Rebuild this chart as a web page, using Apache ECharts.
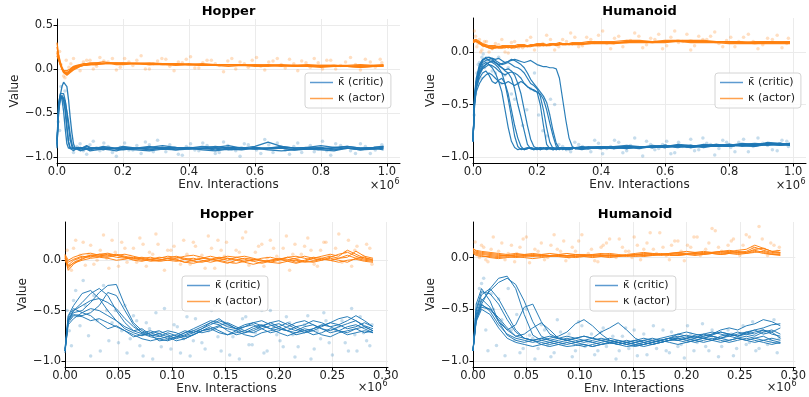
<!DOCTYPE html>
<html><head><meta charset="utf-8">
<script src="https://cdn.jsdelivr.net/npm/echarts@6/dist/echarts.min.js"></script>
<style>html,body{margin:0;padding:0;background:#fff}#c{width:809px;height:397px}</style>
</head><body><div id="c"></div>
<script>
// ---------- titles / labels ----------
const panelTitles = ['Hopper', 'Humanoid', 'Hopper', 'Humanoid'];
const xName = 'Env. Interactions';
const yName = 'Value';
const criticName = '\u03BA\u0304 (critic)';
const actorName = '\u03BA (actor)';

// ---------- tick labels ----------
const topXTicks = [0, 0.2, 0.4, 0.6, 0.8, 1.0];
const bottomXTicks = [0, 0.05, 0.10, 0.15, 0.20, 0.25, 0.30];
const hopTopYTicks = [0.5, 0, -0.5, -1.0];
const otherYTicks = [0, -0.5, -1.0];

// ---------- Hopper (top, x in 1e6) ----------
const hopTopX = [0,0.005,0.01,0.015,0.02,0.025,0.03,0.035,0.04,0.045,0.05,0.055,0.06,0.065,0.07,0.08,0.09,0.1,0.12,0.14,0.16,0.18,0.2,0.24,0.28,0.32,0.36,0.4,0.44,0.48,0.52,0.56,0.6,0.64,0.68,0.72,0.76,0.8,0.84,0.88,0.92,0.96,0.99];
const hopTopCriticA = [-0.85,-0.45,-0.32,-0.3,-0.33,-0.45,-0.65,-0.82,-0.9,-0.91,-0.9,-0.9,-0.91,-0.9,-0.89,-0.9,-0.91,-0.9,-0.89,-0.9,-0.91,-0.9,-0.9,-0.91,-0.9,-0.89,-0.9,-0.9,-0.91,-0.9,-0.89,-0.9,-0.91,-0.9,-0.89,-0.9,-0.9,-0.91,-0.89,-0.9,-0.9,-0.91,-0.9];
const hopTopCriticB = [-0.8,-0.5,-0.3,-0.2,-0.15,-0.14,-0.2,-0.35,-0.55,-0.72,-0.85,-0.9,-0.91,-0.92,-0.9,-0.89,-0.9,-0.92,-0.9,-0.89,-0.91,-0.9,-0.91,-0.9,-0.92,-0.9,-0.89,-0.91,-0.9,-0.92,-0.9,-0.89,-0.91,-0.9,-0.9,-0.92,-0.9,-0.89,-0.91,-0.9,-0.92,-0.9,-0.89];
const hopTopCriticC = [-0.9,-0.4,-0.28,-0.26,-0.28,-0.36,-0.5,-0.66,-0.8,-0.88,-0.91,-0.9,-0.89,-0.9,-0.91,-0.9,-0.88,-0.9,-0.91,-0.9,-0.89,-0.91,-0.89,-0.9,-0.88,-0.91,-0.9,-0.89,-0.9,-0.88,-0.9,-0.91,-0.89,-0.9,-0.88,-0.9,-0.89,-0.91,-0.9,-0.88,-0.9,-0.89,-0.88];
const hopTopCriticD = [-0.82,-0.38,-0.3,-0.34,-0.48,-0.68,-0.85,-0.9,-0.91,-0.9,-0.92,-0.91,-0.9,-0.89,-0.91,-0.92,-0.9,-0.91,-0.9,-0.92,-0.9,-0.91,-0.92,-0.9,-0.91,-0.9,-0.92,-0.91,-0.9,-0.9,-0.92,-0.91,-0.9,-0.91,-0.9,-0.92,-0.91,-0.9,-0.92,-0.9,-0.91,-0.9,-0.92];
const hopTopCriticE = [-0.88,-0.42,-0.33,-0.3,-0.31,-0.37,-0.48,-0.6,-0.74,-0.85,-0.9,-0.89,-0.9,-0.88,-0.9,-0.89,-0.87,-0.89,-0.9,-0.88,-0.89,-0.9,-0.88,-0.9,-0.89,-0.87,-0.89,-0.9,-0.88,-0.89,-0.87,-0.9,-0.88,-0.83,-0.88,-0.9,-0.89,-0.87,-0.89,-0.88,-0.9,-0.89,-0.88];
const hopTopCriticF = [-0.86,-0.48,-0.35,-0.32,-0.36,-0.48,-0.68,-0.84,-0.9,-0.92,-0.93,-0.92,-0.9,-0.91,-0.93,-0.92,-0.91,-0.93,-0.92,-0.91,-0.92,-0.93,-0.91,-0.92,-0.93,-0.91,-0.92,-0.9,-0.92,-0.93,-0.91,-0.92,-0.9,-0.92,-0.93,-0.92,-0.91,-0.92,-0.93,-0.9,-0.92,-0.91,-0.9];
const hopTopActorA = [0.3,0.16,0.08,0.02,-0.03,-0.05,-0.05,-0.04,-0.02,0.0,0.01,0.02,0.03,0.03,0.04,0.04,0.05,0.05,0.06,0.06,0.07,0.06,0.06,0.06,0.05,0.06,0.05,0.05,0.05,0.04,0.05,0.04,0.04,0.04,0.04,0.03,0.04,0.03,0.03,0.03,0.03,0.04,0.04];
const hopTopActorB = [0.2,0.12,0.06,0.0,-0.04,-0.06,-0.06,-0.05,-0.03,-0.02,0.0,0.01,0.02,0.03,0.03,0.04,0.05,0.05,0.05,0.06,0.06,0.07,0.06,0.07,0.06,0.05,0.06,0.05,0.04,0.05,0.05,0.04,0.05,0.04,0.03,0.04,0.04,0.03,0.04,0.03,0.02,0.03,0.03];
const hopTopActorC = [0.15,0.1,0.05,0.01,-0.02,-0.03,-0.02,-0.01,0.0,0.02,0.03,0.04,0.04,0.05,0.05,0.06,0.06,0.07,0.07,0.08,0.07,0.07,0.07,0.06,0.07,0.06,0.06,0.05,0.06,0.05,0.05,0.05,0.04,0.05,0.04,0.04,0.05,0.04,0.04,0.04,0.05,0.04,0.05];
const hopTopActorD = [0.25,0.14,0.07,0.01,-0.04,-0.06,-0.07,-0.06,-0.04,-0.02,-0.01,0.0,0.01,0.02,0.03,0.04,0.04,0.05,0.05,0.06,0.06,0.05,0.05,0.06,0.05,0.05,0.04,0.05,0.04,0.04,0.03,0.04,0.03,0.03,0.04,0.03,0.03,0.02,0.03,0.03,0.02,0.03,0.03];
const hopTopActorE = [0.18,0.11,0.05,0.0,-0.02,-0.04,-0.05,-0.03,-0.01,0.01,0.02,0.03,0.03,0.04,0.05,0.05,0.06,0.06,0.07,0.06,0.07,0.06,0.07,0.06,0.06,0.06,0.05,0.06,0.05,0.04,0.05,0.05,0.04,0.04,0.05,0.04,0.03,0.04,0.04,0.03,0.04,0.03,0.04];

// ---------- Humanoid (top, x in 1e6) ----------
const humTopX = [0,0.005,0.01,0.02,0.03,0.04,0.05,0.06,0.07,0.08,0.09,0.1,0.11,0.12,0.13,0.14,0.15,0.16,0.17,0.18,0.19,0.2,0.21,0.22,0.23,0.24,0.25,0.26,0.27,0.28,0.29,0.3,0.31,0.32,0.34,0.36,0.4,0.44,0.48,0.52,0.56,0.6,0.64,0.68,0.72,0.76,0.8,0.84,0.88,0.92,0.96,0.99];
const humTopCriticA = [-0.85,-0.45,-0.3,-0.18,-0.12,-0.1,-0.12,-0.15,-0.2,-0.28,-0.38,-0.55,-0.72,-0.85,-0.91,-0.93,-0.92,-0.93,-0.92,-0.91,-0.92,-0.93,-0.92,-0.91,-0.92,-0.91,-0.92,-0.93,-0.92,-0.91,-0.92,-0.91,-0.92,-0.91,-0.91,-0.92,-0.91,-0.9,-0.91,-0.9,-0.9,-0.89,-0.9,-0.9,-0.89,-0.9,-0.89,-0.89,-0.88,-0.87,-0.88,-0.88];
const humTopCriticB = [-0.85,-0.4,-0.25,-0.12,-0.07,-0.06,-0.08,-0.1,-0.12,-0.15,-0.2,-0.3,-0.45,-0.62,-0.8,-0.9,-0.93,-0.92,-0.91,-0.92,-0.93,-0.92,-0.91,-0.92,-0.92,-0.91,-0.93,-0.92,-0.91,-0.92,-0.91,-0.92,-0.91,-0.92,-0.92,-0.91,-0.9,-0.91,-0.9,-0.91,-0.89,-0.9,-0.89,-0.91,-0.9,-0.89,-0.88,-0.9,-0.89,-0.88,-0.87,-0.89];
const humTopCriticC = [-0.85,-0.5,-0.35,-0.25,-0.2,-0.18,-0.22,-0.28,-0.3,-0.27,-0.25,-0.3,-0.4,-0.55,-0.7,-0.82,-0.9,-0.93,-0.92,-0.91,-0.92,-0.91,-0.93,-0.92,-0.91,-0.92,-0.93,-0.92,-0.91,-0.92,-0.93,-0.92,-0.91,-0.92,-0.9,-0.91,-0.92,-0.9,-0.89,-0.9,-0.91,-0.9,-0.88,-0.89,-0.9,-0.88,-0.89,-0.87,-0.88,-0.89,-0.88,-0.87];
const humTopCriticD = [-0.85,-0.42,-0.28,-0.15,-0.08,-0.05,-0.05,-0.07,-0.1,-0.12,-0.15,-0.18,-0.2,-0.25,-0.35,-0.5,-0.62,-0.75,-0.88,-0.92,-0.93,-0.92,-0.91,-0.92,-0.93,-0.92,-0.91,-0.92,-0.91,-0.93,-0.92,-0.91,-0.92,-0.91,-0.91,-0.9,-0.91,-0.92,-0.9,-0.91,-0.9,-0.89,-0.9,-0.9,-0.89,-0.88,-0.9,-0.89,-0.88,-0.88,-0.87,-0.88];
const humTopCriticE = [-0.85,-0.48,-0.32,-0.2,-0.14,-0.12,-0.1,-0.09,-0.1,-0.13,-0.15,-0.17,-0.16,-0.18,-0.22,-0.3,-0.4,-0.55,-0.7,-0.83,-0.9,-0.92,-0.93,-0.92,-0.91,-0.92,-0.93,-0.91,-0.92,-0.91,-0.92,-0.93,-0.92,-0.91,-0.92,-0.91,-0.9,-0.91,-0.92,-0.9,-0.91,-0.89,-0.9,-0.91,-0.89,-0.9,-0.88,-0.89,-0.9,-0.88,-0.88,-0.87];
const humTopCriticF = [-0.85,-0.5,-0.38,-0.3,-0.25,-0.22,-0.2,-0.22,-0.25,-0.28,-0.3,-0.3,-0.28,-0.3,-0.32,-0.3,-0.28,-0.3,-0.33,-0.35,-0.36,-0.38,-0.5,-0.7,-0.88,-0.92,-0.91,-0.92,-0.93,-0.92,-0.91,-0.92,-0.91,-0.92,-0.93,-0.92,-0.91,-0.9,-0.91,-0.92,-0.9,-0.9,-0.91,-0.89,-0.9,-0.89,-0.9,-0.88,-0.89,-0.88,-0.89,-0.88];
const humTopCriticG = [-0.85,-0.44,-0.3,-0.16,-0.1,-0.08,-0.07,-0.06,-0.08,-0.1,-0.12,-0.11,-0.1,-0.12,-0.14,-0.15,-0.17,-0.2,-0.25,-0.3,-0.32,-0.35,-0.42,-0.55,-0.72,-0.86,-0.92,-0.93,-0.92,-0.91,-0.92,-0.91,-0.92,-0.91,-0.92,-0.91,-0.92,-0.91,-0.9,-0.91,-0.9,-0.91,-0.89,-0.9,-0.9,-0.89,-0.9,-0.88,-0.89,-0.87,-0.88,-0.89];
const humTopCriticH = [-0.85,-0.46,-0.34,-0.22,-0.16,-0.14,-0.12,-0.13,-0.15,-0.18,-0.2,-0.22,-0.2,-0.19,-0.2,-0.22,-0.25,-0.3,-0.33,-0.35,-0.37,-0.38,-0.4,-0.45,-0.55,-0.68,-0.8,-0.9,-0.92,-0.91,-0.92,-0.93,-0.92,-0.91,-0.9,-0.92,-0.91,-0.9,-0.92,-0.9,-0.91,-0.9,-0.9,-0.89,-0.91,-0.89,-0.88,-0.89,-0.9,-0.87,-0.89,-0.88];
const humTopCriticI = [-0.85,-0.43,-0.29,-0.14,-0.08,-0.06,-0.05,-0.06,-0.07,-0.06,-0.08,-0.1,-0.09,-0.07,-0.08,-0.1,-0.12,-0.15,-0.2,-0.26,-0.3,-0.34,-0.38,-0.42,-0.48,-0.6,-0.75,-0.87,-0.92,-0.91,-0.92,-0.91,-0.92,-0.91,-0.92,-0.91,-0.9,-0.92,-0.91,-0.9,-0.9,-0.91,-0.89,-0.9,-0.88,-0.89,-0.9,-0.88,-0.89,-0.86,-0.87,-0.88];
const humTopCriticJ = [-0.85,-0.47,-0.33,-0.2,-0.15,-0.12,-0.1,-0.08,-0.1,-0.12,-0.11,-0.1,-0.09,-0.08,-0.07,-0.08,-0.09,-0.1,-0.09,-0.08,-0.1,-0.12,-0.13,-0.14,-0.14,-0.15,-0.15,-0.16,-0.25,-0.45,-0.65,-0.82,-0.9,-0.92,-0.91,-0.92,-0.9,-0.91,-0.9,-0.91,-0.9,-0.89,-0.9,-0.9,-0.89,-0.9,-0.89,-0.88,-0.87,-0.88,-0.87,-0.88];
const humTopActorA = [0.1,0.11,0.11,0.09,0.07,0.06,0.05,0.05,0.04,0.05,0.05,0.05,0.04,0.05,0.05,0.06,0.06,0.05,0.06,0.06,0.07,0.07,0.07,0.06,0.07,0.07,0.08,0.07,0.07,0.08,0.08,0.07,0.08,0.08,0.08,0.09,0.09,0.08,0.1,0.1,0.09,0.1,0.11,0.1,0.1,0.09,0.1,0.09,0.08,0.09,0.09,0.09];
const humTopActorB = [0.09,0.1,0.1,0.08,0.06,0.05,0.04,0.04,0.05,0.04,0.04,0.05,0.05,0.04,0.05,0.05,0.05,0.06,0.05,0.06,0.06,0.06,0.07,0.07,0.06,0.07,0.07,0.07,0.08,0.07,0.07,0.08,0.07,0.08,0.08,0.08,0.09,0.09,0.09,0.1,0.1,0.1,0.1,0.11,0.1,0.1,0.1,0.09,0.1,0.1,0.09,0.1];
const humTopActorC = [0.11,0.12,0.12,0.1,0.08,0.07,0.06,0.06,0.06,0.05,0.06,0.06,0.06,0.06,0.06,0.07,0.07,0.07,0.06,0.07,0.07,0.08,0.08,0.08,0.07,0.08,0.08,0.08,0.09,0.08,0.08,0.08,0.09,0.09,0.09,0.1,0.1,0.1,0.11,0.11,0.1,0.11,0.11,0.11,0.11,0.1,0.1,0.1,0.09,0.1,0.1,0.1];
const humTopActorD = [0.1,0.1,0.1,0.08,0.06,0.05,0.04,0.03,0.04,0.04,0.04,0.04,0.05,0.04,0.04,0.05,0.05,0.05,0.05,0.05,0.06,0.06,0.06,0.06,0.06,0.06,0.07,0.06,0.07,0.07,0.07,0.07,0.07,0.07,0.07,0.08,0.08,0.08,0.09,0.09,0.09,0.09,0.1,0.09,0.09,0.09,0.08,0.08,0.08,0.08,0.08,0.08];
const humTopActorE = [0.12,0.11,0.1,0.09,0.07,0.06,0.05,0.05,0.05,0.05,0.05,0.05,0.05,0.05,0.05,0.05,0.06,0.06,0.06,0.06,0.06,0.07,0.06,0.07,0.07,0.07,0.07,0.07,0.07,0.08,0.08,0.08,0.08,0.08,0.08,0.08,0.09,0.09,0.1,0.1,0.1,0.1,0.1,0.1,0.1,0.1,0.09,0.09,0.09,0.09,0.09,0.09];

// ---------- bottom row x (in 1e6) ----------
const bottomX = [0,0.003,0.008,0.016,0.024,0.032,0.04,0.048,0.056,0.064,0.072,0.08,0.088,0.096,0.104,0.112,0.12,0.128,0.136,0.144,0.152,0.16,0.168,0.176,0.184,0.192,0.2,0.208,0.216,0.224,0.232,0.24,0.248,0.256,0.264,0.272,0.28,0.288];

// ---------- Hopper (bottom) ----------
const hopBotCriticA = [-0.9,-0.6,-0.52,-0.5,-0.42,-0.32,-0.25,-0.24,-0.45,-0.62,-0.7,-0.74,-0.76,-0.72,-0.75,-0.78,-0.74,-0.7,-0.68,-0.65,-0.62,-0.66,-0.7,-0.72,-0.68,-0.65,-0.63,-0.67,-0.7,-0.66,-0.64,-0.68,-0.7,-0.66,-0.63,-0.6,-0.65,-0.68];
const hopBotCriticB = [-0.88,-0.55,-0.45,-0.33,-0.3,-0.38,-0.5,-0.6,-0.68,-0.72,-0.75,-0.72,-0.7,-0.74,-0.78,-0.75,-0.72,-0.68,-0.64,-0.6,-0.63,-0.68,-0.72,-0.7,-0.66,-0.62,-0.6,-0.64,-0.68,-0.72,-0.7,-0.66,-0.62,-0.58,-0.56,-0.6,-0.66,-0.7];
const hopBotCriticC = [-0.9,-0.58,-0.5,-0.42,-0.33,-0.28,-0.35,-0.5,-0.62,-0.7,-0.73,-0.76,-0.78,-0.8,-0.77,-0.74,-0.7,-0.66,-0.62,-0.64,-0.7,-0.74,-0.72,-0.68,-0.65,-0.62,-0.66,-0.7,-0.74,-0.72,-0.68,-0.64,-0.66,-0.7,-0.72,-0.68,-0.66,-0.7];
const hopBotCriticD = [-0.9,-0.6,-0.5,-0.45,-0.4,-0.38,-0.42,-0.48,-0.58,-0.66,-0.72,-0.75,-0.73,-0.7,-0.72,-0.76,-0.74,-0.7,-0.66,-0.7,-0.74,-0.72,-0.7,-0.66,-0.64,-0.68,-0.72,-0.75,-0.72,-0.68,-0.7,-0.74,-0.76,-0.72,-0.7,-0.68,-0.72,-0.7];
const hopBotCriticE = [-0.92,-0.62,-0.55,-0.56,-0.6,-0.58,-0.62,-0.66,-0.7,-0.74,-0.78,-0.8,-0.78,-0.76,-0.8,-0.78,-0.74,-0.7,-0.68,-0.72,-0.74,-0.7,-0.66,-0.64,-0.68,-0.72,-0.7,-0.66,-0.62,-0.6,-0.64,-0.68,-0.72,-0.7,-0.66,-0.64,-0.68,-0.72];
const hopBotCriticF = [-0.88,-0.56,-0.48,-0.52,-0.55,-0.62,-0.68,-0.65,-0.7,-0.76,-0.74,-0.72,-0.75,-0.78,-0.76,-0.72,-0.68,-0.64,-0.6,-0.62,-0.66,-0.68,-0.64,-0.62,-0.65,-0.68,-0.66,-0.62,-0.66,-0.7,-0.68,-0.65,-0.62,-0.64,-0.68,-0.66,-0.62,-0.66];
const hopBotCriticG = [-0.9,-0.64,-0.58,-0.52,-0.48,-0.5,-0.55,-0.6,-0.66,-0.7,-0.68,-0.74,-0.8,-0.79,-0.76,-0.72,-0.7,-0.72,-0.7,-0.66,-0.68,-0.7,-0.74,-0.76,-0.72,-0.7,-0.68,-0.7,-0.72,-0.7,-0.74,-0.72,-0.68,-0.7,-0.74,-0.72,-0.7,-0.72];
const hopBotCriticH = [-0.9,-0.6,-0.54,-0.55,-0.52,-0.45,-0.32,-0.35,-0.5,-0.64,-0.72,-0.7,-0.73,-0.76,-0.74,-0.7,-0.72,-0.68,-0.62,-0.58,-0.64,-0.68,-0.66,-0.62,-0.6,-0.64,-0.68,-0.7,-0.66,-0.64,-0.6,-0.62,-0.66,-0.64,-0.6,-0.55,-0.6,-0.66];
const hopBotActorA = [0.05,-0.05,0.0,0.03,0.05,0.06,0.05,0.03,0.02,0.01,0.02,0.03,0.01,0.0,-0.01,0.01,0.02,0.0,-0.02,0.0,0.02,0.01,-0.01,0.0,0.02,0.03,0.01,0.0,0.02,0.04,0.02,0.0,0.03,0.06,0.08,0.04,0.01,0.0];
const hopBotActorB = [0.02,-0.1,-0.04,0.02,0.04,0.04,0.06,0.05,0.03,0.02,0.0,0.01,0.03,0.02,0.0,-0.02,0.0,0.02,0.01,-0.01,-0.03,0.0,0.02,0.01,-0.01,0.0,0.02,0.01,-0.02,0.0,0.03,0.02,0.0,0.02,0.05,0.02,0.0,-0.01];
const hopBotActorC = [0.06,0.0,0.03,0.06,0.07,0.05,0.04,0.06,0.04,0.02,0.03,0.01,0.0,0.02,0.04,0.02,0.0,0.02,0.04,0.02,0.0,0.03,0.04,0.02,0.0,-0.02,0.0,0.03,0.04,0.02,0.0,0.02,0.04,0.02,0.03,0.09,0.04,0.02];
const hopBotActorD = [0.0,-0.06,-0.03,0.0,0.02,0.03,0.02,0.0,0.01,0.03,0.01,-0.01,0.0,0.02,0.01,-0.02,-0.03,-0.01,0.01,0.0,-0.02,-0.03,-0.01,0.01,0.0,-0.02,-0.03,-0.01,0.0,-0.02,-0.01,0.01,0.0,-0.02,0.0,0.01,-0.01,-0.02];
const hopBotActorE = [0.04,-0.02,0.01,0.04,0.03,0.06,0.07,0.05,0.03,0.0,-0.01,0.01,0.02,0.04,0.03,0.01,-0.01,-0.02,0.0,0.02,0.04,0.03,0.01,-0.01,-0.03,-0.01,0.01,0.03,0.01,-0.01,-0.02,0.0,0.02,0.0,-0.02,0.02,0.03,0.0];
const hopBotActorF = [0.03,-0.08,-0.02,0.01,0.05,0.04,0.03,0.05,0.06,0.04,0.02,0.0,-0.01,0.0,0.02,0.04,0.05,0.03,0.01,0.03,0.02,0.0,-0.02,-0.04,-0.02,0.0,0.01,-0.01,-0.03,-0.01,0.02,0.04,0.06,0.04,0.1,0.06,0.02,0.01];

// ---------- Humanoid (bottom) ----------
const humBotCriticA = [-0.9,-0.6,-0.45,-0.3,-0.2,-0.18,-0.3,-0.55,-0.75,-0.8,-0.82,-0.8,-0.78,-0.8,-0.82,-0.8,-0.78,-0.8,-0.82,-0.84,-0.82,-0.8,-0.82,-0.8,-0.78,-0.76,-0.78,-0.75,-0.74,-0.76,-0.78,-0.75,-0.72,-0.74,-0.76,-0.72,-0.7,-0.74];
const humBotCriticB = [-0.9,-0.45,-0.3,-0.42,-0.62,-0.75,-0.8,-0.82,-0.8,-0.78,-0.8,-0.82,-0.84,-0.82,-0.8,-0.82,-0.84,-0.83,-0.82,-0.8,-0.82,-0.84,-0.82,-0.8,-0.78,-0.8,-0.78,-0.76,-0.78,-0.8,-0.76,-0.74,-0.76,-0.72,-0.74,-0.7,-0.72,-0.78];
const humBotCriticC = [-0.9,-0.58,-0.42,-0.32,-0.24,-0.2,-0.26,-0.42,-0.62,-0.76,-0.8,-0.78,-0.76,-0.78,-0.8,-0.82,-0.8,-0.78,-0.8,-0.82,-0.8,-0.78,-0.8,-0.82,-0.8,-0.77,-0.75,-0.77,-0.78,-0.75,-0.72,-0.74,-0.76,-0.73,-0.7,-0.68,-0.65,-0.64];
const humBotCriticD = [-0.9,-0.5,-0.33,-0.35,-0.45,-0.6,-0.72,-0.78,-0.8,-0.82,-0.84,-0.82,-0.8,-0.82,-0.84,-0.86,-0.84,-0.82,-0.84,-0.82,-0.84,-0.86,-0.84,-0.82,-0.8,-0.78,-0.8,-0.82,-0.8,-0.78,-0.8,-0.82,-0.8,-0.78,-0.8,-0.82,-0.84,-0.82];
const humBotCriticE = [-0.9,-0.55,-0.4,-0.48,-0.62,-0.7,-0.65,-0.48,-0.45,-0.62,-0.74,-0.78,-0.8,-0.78,-0.76,-0.78,-0.8,-0.82,-0.8,-0.82,-0.84,-0.82,-0.8,-0.78,-0.76,-0.74,-0.76,-0.78,-0.76,-0.74,-0.72,-0.74,-0.76,-0.74,-0.72,-0.7,-0.74,-0.76];
const humBotCriticF = [-0.9,-0.6,-0.48,-0.5,-0.6,-0.7,-0.76,-0.74,-0.68,-0.63,-0.7,-0.78,-0.8,-0.82,-0.8,-0.78,-0.8,-0.82,-0.84,-0.82,-0.8,-0.82,-0.84,-0.82,-0.8,-0.8,-0.78,-0.8,-0.82,-0.8,-0.78,-0.76,-0.78,-0.8,-0.78,-0.76,-0.8,-0.82];
const humBotCriticG = [-0.9,-0.56,-0.45,-0.52,-0.65,-0.74,-0.78,-0.8,-0.82,-0.8,-0.78,-0.76,-0.72,-0.64,-0.6,-0.66,-0.74,-0.8,-0.82,-0.84,-0.82,-0.8,-0.78,-0.8,-0.78,-0.74,-0.72,-0.74,-0.76,-0.74,-0.7,-0.68,-0.7,-0.66,-0.64,-0.6,-0.62,-0.66];
const humBotCriticH = [-0.9,-0.6,-0.46,-0.5,-0.58,-0.68,-0.76,-0.78,-0.8,-0.78,-0.76,-0.78,-0.8,-0.78,-0.76,-0.78,-0.72,-0.68,-0.63,-0.7,-0.78,-0.82,-0.84,-0.82,-0.8,-0.78,-0.8,-0.78,-0.74,-0.72,-0.74,-0.76,-0.74,-0.72,-0.7,-0.74,-0.72,-0.68];
const humBotCriticI = [-0.9,-0.62,-0.5,-0.55,-0.68,-0.78,-0.82,-0.84,-0.86,-0.84,-0.82,-0.84,-0.86,-0.85,-0.84,-0.86,-0.84,-0.82,-0.84,-0.86,-0.85,-0.84,-0.82,-0.8,-0.82,-0.84,-0.82,-0.8,-0.78,-0.8,-0.82,-0.8,-0.78,-0.8,-0.82,-0.8,-0.78,-0.8];
const humBotCriticJ = [-0.9,-0.52,-0.36,-0.3,-0.4,-0.55,-0.7,-0.78,-0.8,-0.84,-0.86,-0.84,-0.82,-0.84,-0.86,-0.84,-0.82,-0.8,-0.82,-0.84,-0.86,-0.84,-0.82,-0.8,-0.78,-0.8,-0.82,-0.8,-0.78,-0.76,-0.78,-0.8,-0.78,-0.76,-0.78,-0.8,-0.82,-0.83];
const humBotActorA = [0.07,0.05,0.04,0.03,0.02,0.02,0.01,0.02,0.03,0.02,0.01,0.02,0.02,0.01,0.02,0.03,0.02,0.01,0.02,0.02,0.03,0.03,0.02,0.03,0.04,0.03,0.03,0.04,0.05,0.04,0.05,0.06,0.05,0.06,0.1,0.07,0.05,0.04];
const humBotActorB = [0.05,0.03,0.02,0.0,-0.01,0.0,0.01,0.0,-0.01,0.0,0.01,0.02,0.01,0.0,0.01,0.02,0.01,0.0,0.01,0.02,0.01,0.02,0.03,0.02,0.03,0.02,0.03,0.04,0.03,0.04,0.03,0.04,0.05,0.04,0.06,0.04,0.03,0.02];
const humBotActorC = [0.08,0.07,0.06,0.05,0.04,0.03,0.04,0.03,0.02,0.03,0.04,0.03,0.02,0.03,0.03,0.02,0.03,0.04,0.03,0.02,0.03,0.04,0.04,0.03,0.04,0.05,0.04,0.05,0.06,0.05,0.04,0.05,0.07,0.08,0.12,0.09,0.06,0.07];
const humBotActorD = [0.06,0.04,0.03,0.02,0.01,0.02,0.03,0.02,0.01,0.02,0.02,0.01,0.0,0.01,0.02,0.01,0.02,0.02,0.01,0.02,0.03,0.02,0.03,0.04,0.03,0.04,0.04,0.03,0.04,0.05,0.06,0.05,0.04,0.05,0.07,0.05,0.03,0.03];
const humBotActorE = [0.04,0.02,0.01,0.01,0.0,0.01,0.0,0.01,0.02,0.01,0.02,0.01,0.02,0.02,0.01,0.0,0.01,0.02,0.02,0.01,0.02,0.01,0.02,0.03,0.02,0.02,0.03,0.02,0.03,0.04,0.03,0.04,0.03,0.04,0.05,0.06,0.04,0.05];
const humBotActorF = [0.09,0.06,0.05,0.04,0.03,0.02,0.02,0.03,0.04,0.03,0.02,0.03,0.04,0.03,0.02,0.03,0.04,0.03,0.02,0.03,0.04,0.05,0.04,0.03,0.04,0.05,0.06,0.05,0.04,0.05,0.06,0.07,0.06,0.05,0.08,0.09,0.06,0.05];

// ---------- raw points (faint scatter) ----------
const topDotX = [0.004,0.012,0.02,0.028,0.036,0.05,0.07,0.09,0.11,0.13,0.155,0.18,0.205,0.23,0.255,0.28,0.305,0.33,0.355,0.38,0.405,0.43,0.455,0.48,0.505,0.53,0.555,0.58,0.605,0.63,0.655,0.68,0.705,0.73,0.755,0.78,0.805,0.83,0.86,0.89,0.92,0.95,0.98];
const topDotX2 = [0.008,0.016,0.024,0.032,0.042,0.06,0.08,0.1,0.12,0.142,0.168,0.192,0.218,0.242,0.268,0.292,0.318,0.342,0.368,0.392,0.418,0.442,0.468,0.492,0.518,0.542,0.568,0.592,0.618,0.642,0.668,0.692,0.718,0.742,0.768,0.792,0.818,0.845,0.875,0.905,0.935,0.965,0.985];
const hopTopDotCritic = [-0.6,-0.2,-0.4,-0.55,-0.8,-0.95,-0.85,-0.97,-0.82,-0.93,-0.88,-0.99,-0.84,-0.92,-0.96,-0.86,-0.81,-0.94,-0.9,-0.98,-0.85,-0.93,-0.87,-0.96,-0.83,-0.91,-0.99,-0.86,-0.92,-0.8,-0.95,-0.88,-0.97,-0.84,-0.9,-0.94,-0.82,-0.98,-0.87,-0.93,-0.85,-0.96,-0.89];
const hopTopDotCritic2 = [-0.7,-0.35,-0.25,-0.6,-0.9,-0.88,-0.93,-0.86,-0.91,-0.84,-0.95,-0.89,-0.92,-0.87,-0.83,-0.94,-0.9,-0.86,-0.97,-0.88,-0.92,-0.84,-0.9,-0.95,-0.87,-0.93,-0.85,-0.9,-0.96,-0.86,-0.84,-0.92,-0.88,-0.95,-0.87,-0.91,-0.93,-0.85,-0.9,-0.96,-0.88,-0.92,-0.86];
const hopTopDotActor = [0.15,0.05,-0.08,0.1,0.02,0.12,-0.02,0.1,0.0,0.13,0.08,-0.01,0.12,0.04,0.15,0.0,0.09,0.11,-0.02,0.07,0.14,0.01,0.1,0.06,-0.03,0.12,0.08,0.02,0.13,-0.01,0.09,0.05,0.11,-0.02,0.07,0.12,0.0,0.1,0.04,0.13,-0.01,0.08,0.11];
const hopTopDotActor2 = [0.2,0.0,-0.1,-0.05,0.06,0.02,0.08,0.1,0.03,0.09,0.12,0.02,0.08,0.1,0.0,0.06,0.12,0.03,0.08,0.11,0.01,0.07,0.1,0.04,0.09,0.0,0.06,0.1,0.03,0.08,0.12,0.01,0.06,0.09,0.02,0.07,0.1,0.0,0.08,0.05,0.11,0.02,0.07];
const humTopDotCritic = [-0.6,-0.2,-0.1,-0.05,-0.15,-0.08,-0.2,-0.3,-0.15,-0.45,-0.7,-0.35,-0.6,-0.8,-0.5,-0.9,-0.95,-0.88,-0.92,-0.84,-0.97,-0.9,-0.86,-0.94,-0.82,-0.99,-0.88,-0.92,-0.85,-0.96,-0.9,-0.83,-0.93,-0.87,-0.98,-0.84,-0.91,-0.86,-0.95,-0.82,-0.89,-0.94,-0.85];
const humTopDotCritic2 = [-0.4,-0.12,-0.25,-0.02,-0.1,-0.18,-0.05,-0.22,-0.4,-0.3,-0.55,-0.2,-0.75,-0.45,-0.88,-0.93,-0.86,-0.9,-0.95,-0.87,-0.92,-0.84,-0.96,-0.89,-0.91,-0.85,-0.93,-0.88,-0.97,-0.86,-0.9,-0.94,-0.82,-0.88,-0.92,-0.86,-0.95,-0.83,-0.9,-0.87,-0.93,-0.84,-0.9];
const humTopDotActor = [0.2,0.05,0.12,0.02,0.1,0.0,0.08,0.12,-0.01,0.1,0.04,0.14,0.06,0.16,0.02,0.12,0.18,0.05,0.14,0.09,0.2,0.03,0.15,0.1,0.18,0.04,0.13,0.17,0.06,0.2,0.1,0.02,0.15,0.12,0.19,0.05,0.14,0.1,0.17,0.03,0.13,0.16,0.08];
const humTopDotActor2 = [0.15,0.08,0.0,0.06,0.1,0.03,0.07,0.0,0.09,0.04,0.11,0.02,0.08,0.12,0.05,0.1,0.14,0.06,0.12,0.16,0.08,0.13,0.05,0.11,0.15,0.07,0.12,0.03,0.14,0.09,0.17,0.06,0.12,0.15,0.08,0.11,0.05,0.14,0.1,0.07,0.12,0.04,0.13];
const bottomDotX = [0.002,0.006,0.01,0.014,0.019,0.024,0.03,0.036,0.041,0.047,0.053,0.058,0.064,0.07,0.076,0.082,0.087,0.093,0.099,0.105,0.111,0.117,0.122,0.128,0.134,0.14,0.146,0.151,0.157,0.163,0.169,0.175,0.181,0.186,0.192,0.198,0.204,0.21,0.215,0.221,0.227,0.233,0.239,0.244,0.25,0.256,0.262,0.268,0.273,0.279,0.285];
const bottomDotX2 = [0.004,0.008,0.012,0.017,0.022,0.027,0.033,0.039,0.044,0.05,0.056,0.061,0.067,0.073,0.079,0.085,0.09,0.096,0.102,0.108,0.114,0.12,0.125,0.131,0.137,0.143,0.149,0.154,0.16,0.166,0.172,0.178,0.184,0.189,0.195,0.201,0.207,0.213,0.218,0.224,0.23,0.236,0.242,0.247,0.253,0.259,0.265,0.271,0.276,0.282,0.287];
const hopBotDotCritic = [-0.5,-0.85,-0.3,-0.65,-0.45,-0.95,-0.6,-0.25,-0.8,-0.5,-0.7,-0.92,-0.55,-0.85,-0.62,-0.98,-0.72,-0.48,-0.88,-0.66,-0.78,-0.95,-0.58,-0.82,-0.7,-0.45,-0.9,-0.64,-0.76,-0.98,-0.56,-0.84,-0.68,-0.92,-0.5,-0.74,-0.86,-0.62,-0.96,-0.7,-0.55,-0.88,-0.78,-0.6,-0.94,-0.66,-0.82,-0.48,-0.9,-0.72,-0.85];
const hopBotDotCritic2 = [-0.7,-0.4,-0.55,-0.2,-0.75,-0.35,-0.9,-0.5,-0.62,-0.82,-0.45,-0.78,-0.6,-0.95,-0.68,-0.52,-0.86,-0.74,-0.64,-0.92,-0.56,-0.8,-0.7,-0.88,-0.5,-0.76,-0.62,-0.94,-0.68,-0.58,-0.84,-0.72,-0.5,-0.9,-0.66,-0.8,-0.56,-0.74,-0.86,-0.64,-0.98,-0.7,-0.52,-0.82,-0.68,-0.6,-0.9,-0.74,-0.56,-0.8,-0.64];
const hopBotDotActor = [0.1,-0.1,0.2,0.05,-0.05,0.15,0.0,0.25,-0.08,0.08,0.18,-0.02,0.12,0.22,-0.06,0.06,0.16,-0.1,0.1,0.0,0.2,-0.04,0.14,0.05,0.24,-0.08,0.1,0.18,-0.02,0.08,0.28,0.0,0.14,-0.06,0.2,0.04,0.12,-0.1,0.16,0.06,0.22,-0.04,0.1,0.18,0.0,0.26,0.08,-0.06,0.14,0.04,0.12];
const hopBotDotActor2 = [-0.05,0.12,0.0,0.18,0.06,-0.04,0.1,0.02,0.2,-0.06,0.12,0.04,-0.02,0.16,0.08,0.26,0.0,0.1,0.14,-0.04,0.06,0.18,0.02,-0.08,0.12,0.2,0.04,0.0,0.1,0.22,-0.05,0.08,0.16,0.02,0.12,-0.02,0.24,0.06,0.0,0.14,0.1,-0.06,0.18,0.04,0.12,-0.02,0.2,0.1,0.02,0.16,-0.04];
const humBotDotCritic = [-0.6,-0.3,-0.2,-0.9,-0.5,-0.4,-0.95,-0.7,-0.55,-0.88,-0.75,-0.98,-0.65,-0.85,-0.92,-0.72,-0.8,-0.96,-0.62,-0.86,-0.74,-0.9,-0.68,-0.82,-0.98,-0.76,-0.88,-0.7,-0.84,-0.94,-0.66,-0.8,-0.9,-0.72,-0.86,-0.97,-0.74,-0.82,-0.64,-0.9,-0.78,-0.86,-0.7,-0.95,-0.76,-0.84,-0.62,-0.88,-0.72,-0.8,-0.92];
const humBotDotCritic2 = [-0.45,-0.25,-0.7,-0.35,-0.85,-0.6,-0.3,-0.8,-0.92,-0.5,-0.78,-0.88,-0.7,-0.96,-0.6,-0.84,-0.74,-0.9,-0.66,-0.82,-0.94,-0.72,-0.86,-0.76,-0.9,-0.68,-0.84,-0.95,-0.74,-0.8,-0.88,-0.7,-0.92,-0.78,-0.84,-0.66,-0.9,-0.76,-0.86,-0.7,-0.96,-0.8,-0.74,-0.88,-0.66,-0.82,-0.9,-0.7,-0.84,-0.6,-0.78];
const humBotDotActor = [0.15,0.0,0.1,-0.04,0.2,0.06,-0.02,0.12,0.04,0.18,-0.05,0.08,0.14,0.0,0.22,0.06,-0.03,0.1,0.16,0.02,0.08,-0.04,0.12,0.18,0.0,0.1,0.06,0.2,-0.02,0.14,0.08,0.24,0.02,0.12,0.16,-0.03,0.1,0.2,0.04,0.14,0.26,0.06,0.12,0.18,0.02,0.22,0.1,0.3,0.08,0.14,0.06];
const humBotDotActor2 = [0.05,0.12,-0.02,0.08,0.0,0.14,0.04,-0.04,0.1,0.2,0.02,0.06,-0.02,0.12,0.08,0.16,0.0,0.06,0.22,0.04,-0.03,0.1,0.14,0.02,0.18,0.06,0.0,0.12,0.08,0.24,0.04,0.1,-0.02,0.16,0.06,0.12,0.2,0.02,0.08,0.28,0.1,0.04,0.16,0.06,0.12,0.2,0.08,0.18,0.02,0.12,0.1];

// ---------- build ----------
const FF = '"DejaVu Sans", sans-serif';
const BLUE = '#1f77b4', ORANGE = '#ff7f0e';
function zip(xs, ys) { const n = Math.min(xs.length, ys.length); const o = []; for (let i = 0; i < n; i++) o.push([xs[i], ys[i]]); return o; }

const panels = [
  { x: hopTopX, lw: 1.3, critic: [hopTopCriticA,hopTopCriticB,hopTopCriticC,hopTopCriticD,hopTopCriticE,hopTopCriticF], actor: [hopTopActorA,hopTopActorB,hopTopActorC,hopTopActorD,hopTopActorE],
    dots: [[topDotX, hopTopDotCritic, BLUE],[topDotX2, hopTopDotCritic2, BLUE],[topDotX, hopTopDotActor, ORANGE],[topDotX2, hopTopDotActor2, ORANGE]] },
  { x: humTopX, lw: 1.2, critic: [humTopCriticA,humTopCriticB,humTopCriticC,humTopCriticD,humTopCriticE,humTopCriticF,humTopCriticG,humTopCriticH,humTopCriticI,humTopCriticJ], actor: [humTopActorA,humTopActorB,humTopActorC,humTopActorD,humTopActorE],
    dots: [[topDotX, humTopDotCritic, BLUE],[topDotX2, humTopDotCritic2, BLUE],[topDotX, humTopDotActor, ORANGE],[topDotX2, humTopDotActor2, ORANGE]] },
  { x: bottomX, lw: 1.0, critic: [hopBotCriticA,hopBotCriticB,hopBotCriticC,hopBotCriticD,hopBotCriticE,hopBotCriticF,hopBotCriticG,hopBotCriticH], actor: [hopBotActorA,hopBotActorB,hopBotActorC,hopBotActorD,hopBotActorE,hopBotActorF],
    dots: [[bottomDotX, hopBotDotCritic, BLUE],[bottomDotX2, hopBotDotCritic2, BLUE],[bottomDotX, hopBotDotActor, ORANGE],[bottomDotX2, hopBotDotActor2, ORANGE]] },
  { x: bottomX, lw: 1.0, critic: [humBotCriticA,humBotCriticB,humBotCriticC,humBotCriticD,humBotCriticE,humBotCriticF,humBotCriticG,humBotCriticH,humBotCriticI,humBotCriticJ], actor: [humBotActorA,humBotActorB,humBotActorC,humBotActorD,humBotActorE,humBotActorF],
    dots: [[bottomDotX, humBotDotCritic, BLUE],[bottomDotX2, humBotDotCritic2, BLUE],[bottomDotX, humBotDotActor, ORANGE],[bottomDotX2, humBotDotActor2, ORANGE]] }
];

const layout = [
  { grid: {left:57, top:19, width:343, height:144}, xmax:1.04, ymin:-1.068, ymax:0.568, xt: topXTicks, xd:1, yt: hopTopYTicks, legend:[305,73], title:[228.5,12], mult:[394,186.5] },
  { grid: {left:473, top:18, width:333, height:145}, xmax:1.04, ymin:-1.057, ymax:0.324, xt: topXTicks, xd:1, yt: otherYTicks, legend:[715,73], title:[639.5,12], mult:[800,186.5] },
  { grid: {left:65, top:222, width:323, height:145}, xmax:0.302, ymin:-1.06, ymax:0.38, xt: bottomXTicks, xd:2, yt: otherYTicks, legend:[182,276], title:[226.5,215], mult:[382,388.5] },
  { grid: {left:473, top:222, width:324, height:145}, xmax:0.302, ymin:-1.058, ymax:0.344, xt: bottomXTicks, xd:2, yt: otherYTicks, legend:[590,276], title:[635,215], mult:[791,388.5] }
];

const series = [];
panels.forEach((p, i) => {
  p.dots.forEach(d => series.push({ type:'scatter', name:'raw', xAxisIndex:i, yAxisIndex:i, data: zip(d[0], d[1]), symbol:'circle', symbolSize:3.5, itemStyle:{color:d[2], opacity:0.26}, silent:true, z:1 }));
  p.critic.forEach(ys => series.push({ type:'line', name: criticName, xAxisIndex:i, yAxisIndex:i, data: zip(p.x, ys), showSymbol:false, symbol:'none', lineStyle:{color:BLUE, width:p.lw, opacity:0.95}, itemStyle:{color:BLUE}, silent:true, z:2 }));
  p.actor.forEach(ys => series.push({ type:'line', name: actorName, xAxisIndex:i, yAxisIndex:i, data: zip(p.x, ys), showSymbol:false, symbol:'none', lineStyle:{color:ORANGE, width:p.lw, opacity:0.95}, itemStyle:{color:ORANGE}, silent:true, z:2 }));
});

const fmtY = v => (v < 0 ? '\u2212' : '') + Math.abs(v).toFixed(1);
const graphics = [];
layout.forEach((L, i) => {
  graphics.push({ type:'text', x:L.title[0], y:L.title[1], style:{ text: panelTitles[i], fill:'#000', font:'bold 13px ' + FF, textAlign:'center', textVerticalAlign:'middle', align:'center', verticalAlign:'middle' } });
  graphics.push({ type:'text', x:L.mult[0], y:L.mult[1], style:{ text:'\u00D710', fill:'#222', font:'11.5px ' + FF, textAlign:'right', textVerticalAlign:'middle', align:'right', verticalAlign:'middle' } });
  graphics.push({ type:'text', x:L.mult[0] + 0.5, y:L.mult[1] - 5, style:{ text:'6', fill:'#222', font:'8px ' + FF, textAlign:'left', textVerticalAlign:'middle', align:'left', verticalAlign:'middle' } });
});

const option = {
  animation: false,
  backgroundColor: '#fff',
  grid: layout.map(L => L.grid),
  xAxis: layout.map((L, i) => ({
    type:'value', gridIndex:i, min:0, max:L.xmax,
    name: xName, nameLocation:'middle', nameGap:16,
    nameTextStyle:{ fontFamily:FF, fontSize:12, color:'#222' },
    axisLine:{ show:true, onZero:false, lineStyle:{ color:'#000', width:1 } },
    axisTick:{ show:true, customValues:L.xt, length:3.5, lineStyle:{ color:'#000', width:1 } },
    axisLabel:{ customValues:L.xt, formatter: v => v.toFixed(L.xd), fontFamily:FF, fontSize:11.5, color:'#222', margin:3 },
    splitLine:{ show:true, lineStyle:{ color:'#ebebeb', width:1 } }
  })),
  yAxis: layout.map((L, i) => ({
    type:'value', gridIndex:i, min:L.ymin, max:L.ymax,
    name: yName, nameLocation:'middle', nameGap:36,
    nameTextStyle:{ fontFamily:FF, fontSize:12, color:'#222' },
    axisLine:{ show:true, onZero:false, lineStyle:{ color:'#000', width:1 } },
    axisTick:{ show:true, customValues:L.yt, length:3.5, lineStyle:{ color:'#000', width:1 } },
    axisLabel:{ customValues:L.yt, formatter: fmtY, fontFamily:FF, fontSize:11.5, color:'#222', margin:4 },
    splitLine:{ show:true, lineStyle:{ color:'#ebebeb', width:1 } }
  })),
  legend: layout.map(L => ({
    left:L.legend[0], top:L.legend[1], orient:'vertical', selectedMode:false,
    icon:'rect', itemWidth:23, itemHeight:1.5, itemGap:5,
    padding:[4,6,4,5], borderColor:'#d4d4d4', borderWidth:1, borderRadius:3,
    backgroundColor:'rgba(255,255,255,0.85)',
    textStyle:{ fontFamily:FF, fontSize:11, color:'#222' },
    data:[ { name: criticName, itemStyle:{ color:'#5d9bd0' } }, { name: actorName, itemStyle:{ color:'#ffa24f' } } ]
  })),
  graphic: graphics,
  series: series
};
const chart = echarts.init(document.getElementById('c'), null, { renderer:'canvas' });
chart.setOption(option);
</script></body></html>
